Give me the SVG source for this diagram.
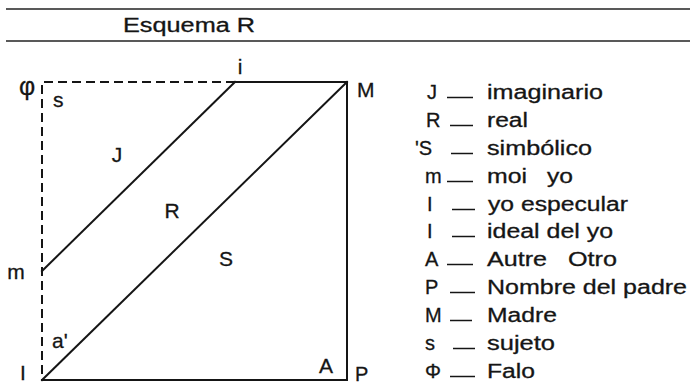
<svg xmlns="http://www.w3.org/2000/svg" width="690" height="385" viewBox="0 0 690 385">
<style>
text{font-family:"Liberation Sans",Arial,sans-serif;fill:#151515;stroke:#151515;stroke-width:0.3}
.hd{font-size:20px}
.lb{font-size:21px}
.lg{font-size:20px}
.ln{stroke:#151515;stroke-width:2;fill:none;stroke-linecap:square}
.dl{stroke:#151515;stroke-width:2;fill:none;stroke-dasharray:9 5}
.ds{stroke:#151515;stroke-width:1.5}
</style>
<rect width="690" height="385" fill="#fff"/>
<g id="header">
<line x1="6" y1="9" x2="690" y2="9" stroke="#222" stroke-width="1.5"/>
<line x1="6" y1="41" x2="690" y2="41" stroke="#222" stroke-width="1.5"/>
<text class="hd" x="123" y="32" textLength="132" lengthAdjust="spacingAndGlyphs">Esquema R</text>
</g>
<g id="connectors">
<path class="dl" d="M235,82 H42 V380"/>
<path class="ln" d="M235,82 H347 V380 H42"/>
<line class="ln" x1="42" y1="271" x2="235" y2="82"/>
<line class="ln" x1="42" y1="380" x2="347" y2="82"/>
</g>
<g id="node-phi"><text class="lb" x="27" y="95" text-anchor="middle" style="font-size:25px">φ</text></g>
<g id="node-s"><text class="lb" x="53" y="107">s</text></g>
<g id="node-i"><text class="lb" x="240" y="74" text-anchor="middle">i</text></g>
<g id="node-M"><text class="lb" x="357" y="97">M</text></g>
<g id="node-J"><text class="lb" x="117" y="162" text-anchor="middle">J</text></g>
<g id="node-R"><text class="lb" x="172" y="218" text-anchor="middle">R</text></g>
<g id="node-S"><text class="lb" x="226" y="266" text-anchor="middle">S</text></g>
<g id="node-m"><text class="lb" x="16" y="279" text-anchor="middle">m</text></g>
<g id="node-a"><text class="lb" x="52" y="348">a'</text></g>
<g id="node-I"><text class="lb" x="23" y="380" text-anchor="middle">I</text></g>
<g id="node-A"><text class="lb" x="326" y="373" text-anchor="middle">A</text></g>
<g id="node-P"><text class="lb" x="355" y="381" style="font-size:20px">P</text></g>
<g id="legend">
<text class="lg" x="427" y="99">J</text><line class="ds" x1="447" y1="97.5" x2="473" y2="97.5"/><text class="lg" x="487" y="99" textLength="116" lengthAdjust="spacingAndGlyphs">imaginario</text>
<text class="lg" x="426" y="127">R</text><line class="ds" x1="450" y1="125.5" x2="473" y2="125.5"/><text class="lg" x="487" y="127" textLength="41" lengthAdjust="spacingAndGlyphs">real</text>
<text class="lg" x="415" y="155">'S</text><line class="ds" x1="451" y1="153.5" x2="473" y2="153.5"/><text class="lg" x="487" y="155" textLength="105" lengthAdjust="spacingAndGlyphs">simbólico</text>
<text class="lg" x="425" y="183">m</text><line class="ds" x1="447" y1="181.5" x2="473" y2="181.5"/><text class="lg" x="487" y="183" textLength="40" lengthAdjust="spacingAndGlyphs">moi</text><text class="lg" x="547" y="183" textLength="26" lengthAdjust="spacingAndGlyphs">yo</text>
<text class="lg" x="427" y="211">I</text><line class="ds" x1="452" y1="209.5" x2="475" y2="209.5"/><text class="lg" x="488" y="211" textLength="140" lengthAdjust="spacingAndGlyphs">yo especular</text>
<text class="lg" x="427" y="238">I</text><line class="ds" x1="452" y1="236.5" x2="475" y2="236.5"/><text class="lg" x="487" y="238" textLength="126" lengthAdjust="spacingAndGlyphs">ideal del yo</text>
<text class="lg" x="425" y="266">A</text><line class="ds" x1="447" y1="264.5" x2="473" y2="264.5"/><text class="lg" x="487" y="266" textLength="60" lengthAdjust="spacingAndGlyphs">Autre</text><text class="lg" x="568" y="266" textLength="49" lengthAdjust="spacingAndGlyphs">Otro</text>
<text class="lg" x="425" y="294">P</text><line class="ds" x1="450" y1="292.5" x2="475" y2="292.5"/><text class="lg" x="487" y="294" textLength="200" lengthAdjust="spacingAndGlyphs">Nombre del padre</text>
<text class="lg" x="425" y="322">M</text><line class="ds" x1="450" y1="320.5" x2="472" y2="320.5"/><text class="lg" x="487" y="322" textLength="70" lengthAdjust="spacingAndGlyphs">Madre</text>
<text class="lg" x="425" y="350">s</text><line class="ds" x1="453" y1="348.5" x2="475" y2="348.5"/><text class="lg" x="487" y="350" textLength="68" lengthAdjust="spacingAndGlyphs">sujeto</text>
<text class="lg" x="425" y="378">Φ</text><line class="ds" x1="450" y1="376.5" x2="475" y2="376.5"/><text class="lg" x="487" y="378" textLength="48" lengthAdjust="spacingAndGlyphs">Falo</text>
</g>
</svg>
